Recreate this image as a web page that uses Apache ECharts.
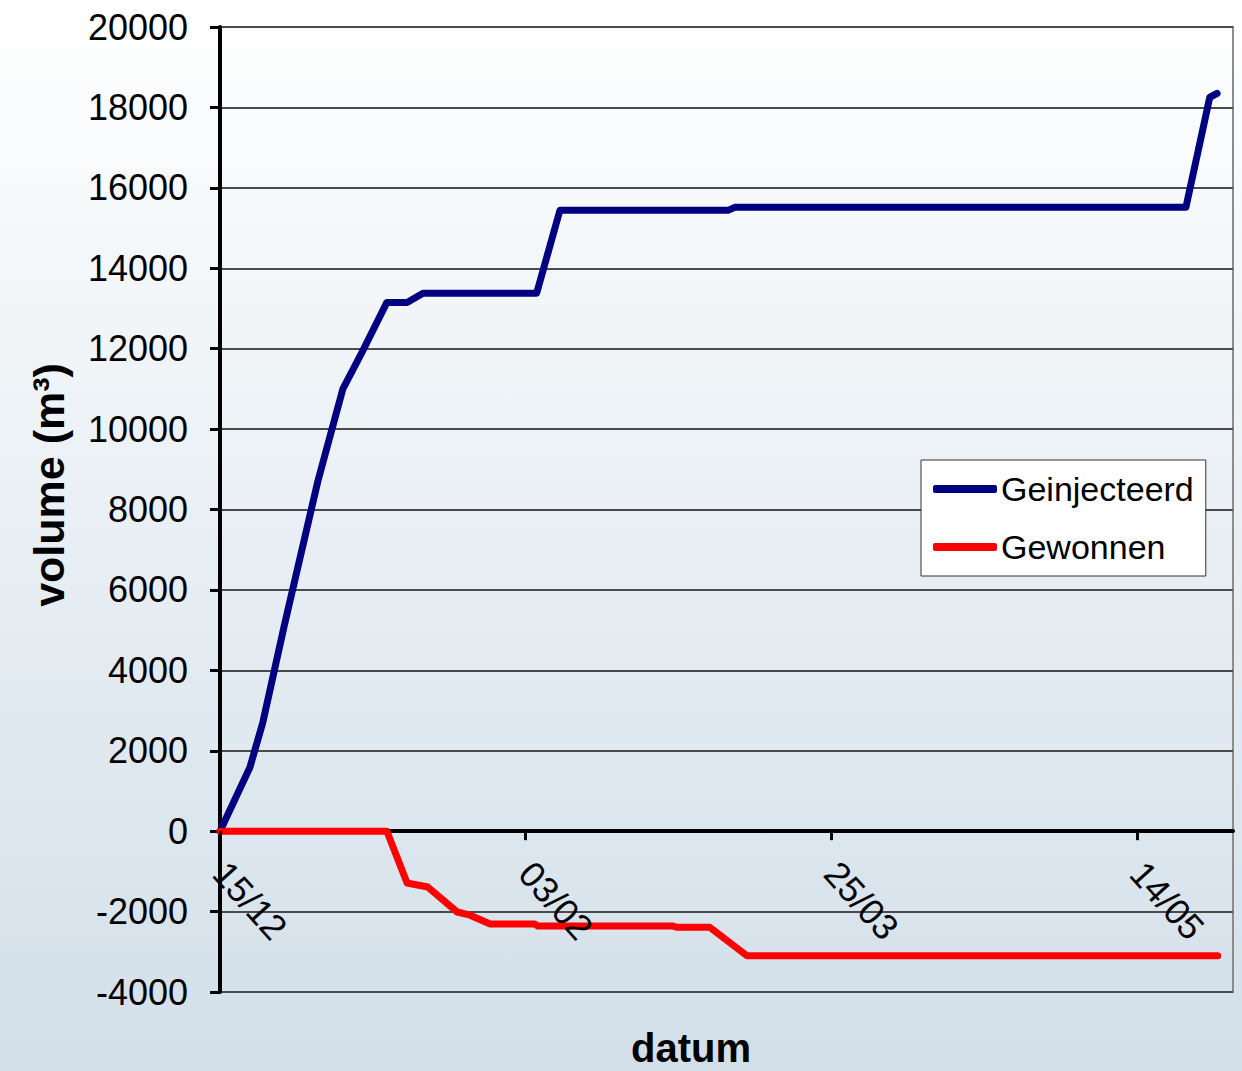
<!DOCTYPE html>
<html><head><meta charset="utf-8">
<script src="https://cdn.jsdelivr.net/npm/echarts@6/dist/echarts.min.js"></script>
<style>html,body{margin:0;padding:0;background:#fff;} #c{width:1242px;height:1071px;}</style>
</head><body><div id="c"></div>
<script>
// x values are days counted from 15/12
const tickLabels = ['15/12', '03/02', '25/03', '14/05'];
const tickDays = [0, 50, 100, 150];

const geinjDays = [0, 4.9, 7.0, 10.5, 16.0, 20.1, 23.2, 27.3, 30.6, 33.2, 51.8, 55.6, 83.1, 84.3, 158.0, 161.9, 163.1];
const geinjVals = [0, 1590, 2700, 5100, 8700, 11000, 11900, 13150, 13150, 13380, 13380, 15440, 15440, 15520, 15520, 18250, 18350];

const gewonDays = [0, 27.3, 30.6, 34.0, 38.8, 40.9, 44.2, 51.5, 52.0, 74.1, 74.7, 80.1, 86.2, 163.2];
const gewonVals = [0, 0, -1290, -1390, -2010, -2090, -2310, -2310, -2360, -2360, -2390, -2390, -3100, -3100];

const pair = (xs, ys) => xs.map((x, i) => [x, ys[i]]);

const Y_MIN = -4000, Y_MAX = 20000, X_MAX = 165.7;
const GRID_TOP = 27, GRID_BOTTOM = 79, H = 1071;
// shift x axes up/down from the grid edges to the zero line
const plotH = H - GRID_TOP - GRID_BOTTOM;
const zeroFromBottom = plotH * (0 - Y_MIN) / (Y_MAX - Y_MIN);
const zeroFromTop = plotH - zeroFromBottom;

const chart = echarts.init(document.getElementById('c'), null, {renderer: 'svg'});
const FONT = "'Liberation Sans', Arial, sans-serif";
chart.setOption({
  animation: false,
  backgroundColor: {
    type: 'linear', x: 0, y: 0, x2: 0, y2: 1,
    colorStops: [{offset: 0, color: '#ffffff'}, {offset: 1, color: '#d2dfe9'}]
  },
  grid: {
    left: 220, right: 9, top: GRID_TOP, bottom: GRID_BOTTOM,
    outerBoundsMode: 'none', containLabel: false,
    show: true, borderColor: '#8c8c8c', borderWidth: 2, backgroundColor: 'transparent'
  },
  legend: {
    orient: 'vertical', left: 921, top: 460,
    backgroundColor: '#ffffff', borderColor: '#333', borderWidth: 1,
    padding: [12, 12, 12, 12], itemGap: 24,
    itemWidth: 64, itemHeight: 8, icon: 'roundRect',
    textStyle: {fontFamily: FONT, fontSize: 34, color: '#000', padding: [0, 0, 0, -1]},
    data: ['Geinjecteerd', 'Gewonnen']
  },
  xAxis: [
    { // ticks + labels, drawn above the series
      type: 'value', min: 0, max: X_MAX, position: 'bottom', offset: -zeroFromBottom, z: 10,
      axisLine: {show: false},
      axisTick: {show: true, length: 9, customValues: tickDays, lineStyle: {color: '#000', width: 3}},
      axisLabel: {
        show: true, customValues: tickDays, rotate: -48, margin: 36,
        fontFamily: FONT, fontSize: 36, color: '#000',
        formatter: v => { const i = tickDays.indexOf(v); return i >= 0 ? tickLabels[i] : ''; }
      },
      splitLine: {show: false}
    },
    { // the zero line itself, drawn below the series
      type: 'value', min: 0, max: X_MAX, position: 'top', offset: -zeroFromTop, z: 0,
      axisLine: {show: true, onZero: false, lineStyle: {color: '#000', width: 4}},
      axisTick: {show: false}, axisLabel: {show: false}, splitLine: {show: false}
    }
  ],
  yAxis: {
    type: 'value', min: Y_MIN, max: Y_MAX, interval: 2000,
    axisLine: {show: true, onZero: false, lineStyle: {color: '#000', width: 4}},
    axisTick: {show: true, length: 10, lineStyle: {color: '#000', width: 3}},
    axisLabel: {margin: 32, fontFamily: FONT, fontSize: 36, color: '#000', formatter: v => String(v)},
    splitLine: {show: true, lineStyle: {color: '#4a4a4a', width: 2}}
  },
  graphic: [
    {type: 'text', x: 49, y: 485, rotation: Math.PI / 2,
     style: {text: 'volume (m³)', font: "bold 43px 'Liberation Sans', Arial, sans-serif",
             fill: '#000', textAlign: 'center', textVerticalAlign: 'middle'}},
    {type: 'text', x: 691, y: 1048,
     style: {text: 'datum', font: "bold 40px 'Liberation Sans', Arial, sans-serif",
             fill: '#000', textAlign: 'center', textVerticalAlign: 'middle'}}
  ],
  series: [
    {name: 'Geinjecteerd', type: 'line', xAxisIndex: 0, data: pair(geinjDays, geinjVals), symbol: 'none',
     color: '#000080', lineStyle: {color: '#000080', width: 7, cap: 'round', join: 'round'}},
    {name: 'Gewonnen', type: 'line', xAxisIndex: 0, data: pair(gewonDays, gewonVals), symbol: 'none',
     color: '#ff0000', lineStyle: {color: '#ff0000', width: 7, cap: 'round', join: 'round'}}
  ]
});
</script>
</body></html>
